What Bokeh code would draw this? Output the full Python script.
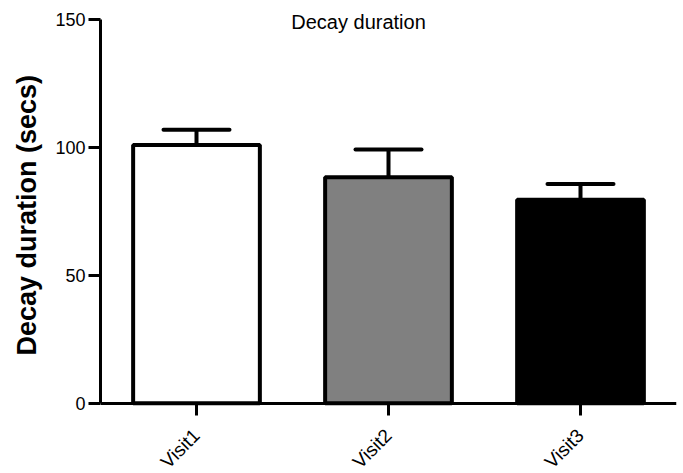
import math
from bokeh.plotting import figure
from bokeh.models import ColumnDataSource, Whisker, TeeHead, Label, FixedTicker, FactorRange, Range1d, Title
from bokeh.embed import file_html
from bokeh.resources import INLINE

categories = ["Visit1", "Visit2", "Visit3"]
means = [101.0, 88.4, 79.6]
upper_err = [107.0, 99.3, 85.8]
fill_colors = ["#ffffff", "#808080", "#000000"]
y_ticks = [0, 50, 100, 150]
y_axis_min = 0
y_axis_max = 150
title_text = "Decay duration"
y_label = "Decay duration (secs)"

FONT = "Liberation Sans"

src = ColumnDataSource(dict(cat=categories, mean=means, upper=upper_err, color=fill_colors))

# frame covers the full canvas height; the x axis sits at y=0 inside it
p = figure(x_range=FactorRange(*categories), y_range=Range1d(-27.5, 157.55),
           width=683, height=473, output_backend="svg", toolbar_location=None,
           min_border_left=100, min_border_right=7, min_border_top=0, min_border_bottom=0,
           background_fill_color="white", border_fill_color="white")
p.outline_line_color = None
p.grid.visible = False

p.vbar(x="cat", top="mean", bottom=0, width=0.66, fill_color="color",
       line_color="black", line_width=4, source=src)

w = Whisker(source=src, base="cat", upper="upper", lower="mean",
            line_width=4, line_color="black",
            upper_head=TeeHead(size=66, line_width=4, line_color="black", line_cap="round"),
            lower_head=None)
p.add_layout(w)

for ax in (p.xaxis[0], p.yaxis[0]):
    ax.axis_line_width = 3
    ax.axis_line_color = "black"
    ax.major_tick_line_width = 3
    ax.major_tick_line_color = "black"
    ax.major_tick_out = 12
    ax.major_tick_in = 0
    ax.minor_tick_line_color = None
    ax.major_label_text_font = FONT
    ax.major_label_text_color = "black"

p.yaxis.ticker = FixedTicker(ticks=y_ticks)
p.yaxis.bounds = (y_axis_min, y_axis_max)
p.yaxis.major_label_text_font_size = "18px"
p.yaxis.major_label_standoff = 3

p.xaxis.fixed_location = 0
p.xaxis.major_label_orientation = math.pi / 4
p.xaxis.major_label_text_font_size = "19px"
p.xaxis.major_label_standoff = 17

p.add_layout(Title(text=y_label, align="left", vertical_align="top", offset=118, standoff=18,
                   text_font=FONT, text_font_style="bold", text_font_size="27px",
                   text_color="black"), "left")

p.add_layout(Label(x=1.344, y=149, text=title_text, text_align="center",
                   text_baseline="middle", text_font=FONT, text_font_size="20px",
                   text_color="black"))

open("out.html", "w").write(file_html(p, INLINE))
